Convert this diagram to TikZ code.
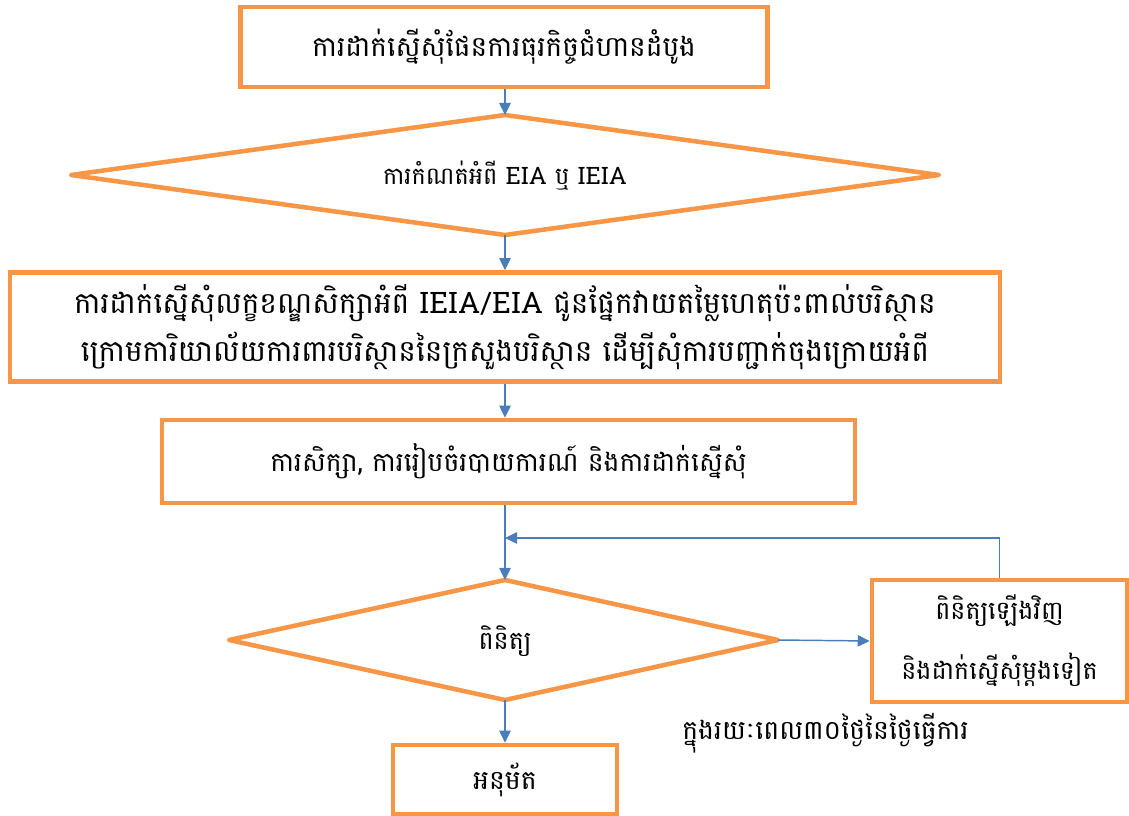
\documentclass[tikz,border=0pt]{standalone}
\usepackage{fontspec}
\newfontfamily\khmer[Script=Khmer]{Battambang}
\usetikzlibrary{arrows.meta}
\newlength{\pxu}\setlength{\pxu}{0.75pt}
\definecolor{boxorange}{HTML}{F79646}
\definecolor{lineblue}{HTML}{4A7EBB}
\newcommand{\kfont}[2]{\khmer\fontsize{#1}{#2}\selectfont\lineskiplimit=-50pt\lineskip=0pt}
\tikzset{
  stepbox/.style={draw=boxorange, line width=3.4pt, fill=white, inner sep=0pt, align=center, font=\kfont{20}{30}},
  decideline/.style={draw=boxorange, line width=3.4pt, fill=white, line join=round},
  decidetext/.style={inner sep=0pt, align=center, font=\kfont{18}{30}},
  arr/.style={draw=lineblue, line width=1.1pt, -{Triangle[length=9pt,width=8.5pt]}},
}
\begin{document}
\begin{tikzpicture}[x=0.75pt,y=-0.75pt]
\useasboundingbox (0,0) rectangle (1129,816);
\node[stepbox, minimum width=527\pxu, minimum height=80\pxu, font=\kfont{21}{30}] (b1) at (504,47) {ការដាក់ស្នើសុំផែនការធុរកិច្ចជំហានដំបូង};
% decision 1
\coordinate (d1t) at (505,115);
\coordinate (d1r) at (939,175);
\coordinate (d1b) at (505,235);
\coordinate (d1l) at (71,175);
\path[decideline] (d1t) -- (d1r) -- (d1b) -- (d1l) -- cycle;
\node[decidetext] (d1) at (505,176) {ការកំណត់អំពី EIA ឬ IEIA};
\node[stepbox, minimum width=990\pxu, minimum height=109\pxu, font=\kfont{22.2}{36}] (b2) at (505,327) {\raisebox{-4pt}{ការដាក់ស្នើសុំលក្ខខណ្ឌសិក្សាអំពី IEIA/EIA ជូនផ្នែកវាយតម្លៃហេតុប៉ះពាល់បរិស្ថាន}\\\raisebox{-4pt}{ក្រោមការិយាល័យការពារបរិស្ថាននៃក្រសួងបរិស្ថាន ដើម្បីសុំការបញ្ជាក់ចុងក្រោយអំពី}};
\node[stepbox, minimum width=693\pxu, minimum height=83\pxu] (b3) at (508.5,461.5) {ការសិក្សា, ការរៀបចំរបាយការណ៍ និងការដាក់ស្នើសុំ};
% decision 2
\coordinate (d2t) at (505,580);
\coordinate (d2r) at (778,640);
\coordinate (d2b) at (505,700);
\coordinate (d2l) at (229,640);
\path[decideline] (d2t) -- (d2r) -- (d2b) -- (d2l) -- cycle;
\node[decidetext, font=\kfont{19}{30}] (d2) at (505,641) {ពិនិត្យ};
\node[stepbox, minimum width=255\pxu, minimum height=122\pxu, font=\kfont{19}{35}] (b4) at (999.5,641) {ពិនិត្យឡើងវិញ\\[10pt]និងដាក់ស្នើសុំម្តងទៀត};
\node[stepbox, minimum width=224\pxu, minimum height=69\pxu] (b5) at (505,779.5) {អនុម័ត};
\node[anchor=west, inner sep=0pt, font=\kfont{20}{30}] (note) at (682,733) {ក្នុងរយៈពេល៣០ថ្ងៃនៃថ្ងៃធ្វើការ};
\coordinate (join) at (505,538);
\draw[arr] (b1.south -| d1t) -- (d1t);
\draw[arr] (d1b) -- (b2.north);
\draw[arr] (b2.south) -- (b3.north -| b2.south);
\draw[arr] (b3.south -| d2t) -- (d2t);
\draw[arr] (d2r) -- (b4.west);
\draw[arr] (d2b) -- (b5.north);
\draw[arr] (b4.north) |- (join);
\end{tikzpicture}
\end{document}
